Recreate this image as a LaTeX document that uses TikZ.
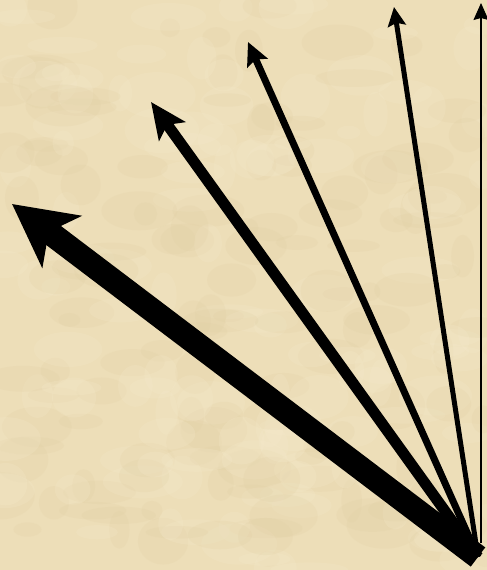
\documentclass[tikz,border=0pt]{standalone}
\usetikzlibrary{arrows.meta}
\definecolor{parch}{RGB}{237,222,184}
\definecolor{parchdark}{RGB}{222,204,160}
\definecolor{parchlight}{RGB}{246,235,205}
\begin{document}
\begin{tikzpicture}[x=1pt,y=1pt,
  vec/.style={draw=black,line cap=butt}]
\fill[parch] (0,0) rectangle (487,570);
\useasboundingbox (0,0) rectangle (487,570);
\pgfmathsetseed{7}
\foreach \i in {1,...,260}{
  \pgfmathsetmacro{\px}{rnd*487}
  \pgfmathsetmacro{\py}{rnd*570}
  \pgfmathsetmacro{\rx}{10+rnd*30}
  \pgfmathsetmacro{\ry}{6+rnd*18}
  \pgfmathsetmacro{\c}{rnd}
  \ifdim\c pt<0.5pt
    \fill[parchdark,opacity=0.18] (\px,\py) ellipse ({\rx} and {\ry});
  \else
    \fill[parchlight,opacity=0.22] (\px,\py) ellipse ({\rx} and {\ry});
  \fi
}
\coordinate (O) at (478,13);
\coordinate (O1) at (481,27);
\coordinate (T1) at (481,567);
\coordinate (T2) at (394,563);
\coordinate (T3) at (248,528);
\coordinate (T4) at (151,468);
\coordinate (T5) at (12,366);
\draw[vec,line width=1.2pt,-{Stealth[length=17pt,width=15pt,inset=2pt]}] (O1) -- (T1);
\draw[vec,line width=5pt,-{Stealth[length=19pt,width=18pt,inset=3pt]}] (O) -- (T2);
\draw[vec,line width=7pt,-{Stealth[length=23pt,width=22pt,inset=4pt]}] (O) -- (T3);
\draw[vec,line width=11pt,-{Stealth[length=36pt,width=32pt,inset=8pt]}] (O) -- (T4);
\draw[vec,line width=24pt,-{Stealth[length=62pt,width=64pt,inset=16pt]}] (O) -- (T5);
\end{tikzpicture}
\end{document}
